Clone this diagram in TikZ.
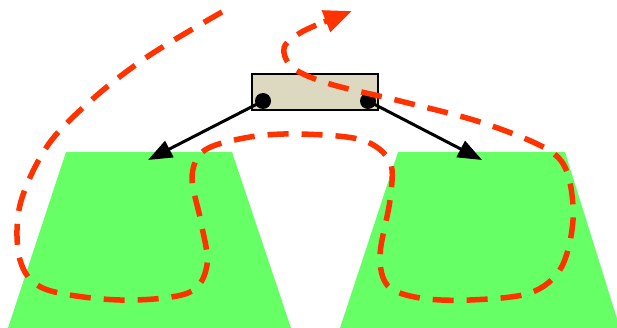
\documentclass[tikz,border=0pt]{standalone}
\usetikzlibrary{arrows.meta}
\definecolor{trapgreen}{RGB}{102,255,102}
\definecolor{boxbeige}{RGB}{221,216,192}
\definecolor{pathred}{RGB}{255,51,0}
\tikzset{
  trap/.style={fill=trapgreen, draw=none},
  bar/.style={draw=black, fill=boxbeige, line width=1.5pt},
  dot/.style={circle, fill=black, inner sep=0pt, minimum size=16pt},
  conn/.style={line width=3pt, -{Triangle[length=24pt,width=18pt]}},
  route/.style={draw=pathred, line width=5.5pt, dash pattern=on 21pt off 13pt}
}
\begin{document}
\begin{tikzpicture}[x=1pt,y=-1pt]
\useasboundingbox (0,0) rectangle (617,328);
\fill[trap] (66,152) -- (232,152) -- (291,328) -- (8,328) -- cycle;
\fill[trap] (398,152) -- (565,152) -- (620,328) -- (340,328) -- cycle;
\node[bar, minimum width=126pt, minimum height=36pt, inner sep=0pt] (box) at (315,92) {};
\node[dot] (d1) at (263,101) {};
\node[dot] (d2) at (368,101) {};
\coordinate (t1) at (148,160);
\coordinate (t2) at (482,160);
\draw[conn] (d1.center) -- (t1);
\draw[conn] (d2.center) -- (t2);
\draw[route] plot[smooth, tension=0.55] coordinates {
 (222,12) (150,55) (95,97) (48,145) (20,205) (20,260) (45,289) (120,300) (188,293) (207,265) (201,222) (192,177) (205,150) (250,137) (300,134) (362,140) (390,162) (390,200) (380,255) (388,286) (420,298) (470,300) (530,293) (561,268) (573,220) (567,172) (545,148) (480,122) (400,101) (330,84) (293,68) (284,48) (300,33) (326,21)};
\draw[pathred, line width=5.5pt, -{Triangle[length=28pt,width=22pt]}] (324,22) -- (352,11);
\end{tikzpicture}
\end{document}
